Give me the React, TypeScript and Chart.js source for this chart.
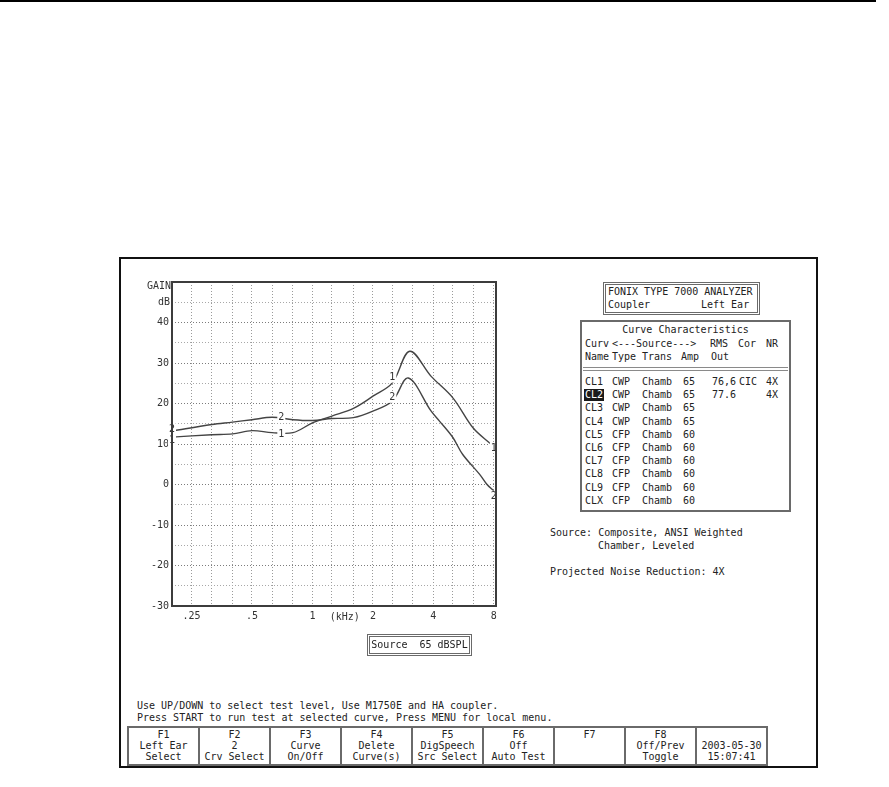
import React, { useEffect, useRef } from "react";
import { Chart, registerables } from "chart.js";

Chart.register(...registerables);

// Coupler gain curves (frequency in kHz, gain in dB)
const curve1Freq = [0.2, 0.315, 0.4, 0.5, 0.63, 0.8, 1.0, 1.25, 1.6, 2.0, 2.5, 3.05, 3.9, 5.0, 6.3, 7.6, 8.0];
const curve1Gain = [11.7, 12.3, 12.5, 13.3, 12.8, 12.8, 15.2, 16.9, 18.8, 21.8, 25.1, 32.9, 26.7, 21.4, 14.0, 10.3, 9.5];
const curve2Freq = [0.2, 0.315, 0.4, 0.5, 0.63, 0.8, 1.0, 1.25, 1.6, 2.0, 2.5, 3.0, 3.9, 4.3, 5.0, 5.6, 6.8, 7.4, 8.0];
const curve2Gain = [13.2, 14.8, 15.4, 16.0, 16.6, 16.0, 15.8, 16.3, 16.5, 18.1, 20.6, 26.3, 18.1, 15.6, 11.6, 7.4, 2.5, 0.0, -1.6];

// Curve number markers written along each trace
const markerCurve = ["2", "1", "2", "1", "1", "2", "1", "2"];
const markerFreq = [0.2, 0.2, 0.7, 0.7, 2.5, 2.5, 8.0, 8.0];
const markerGain = [13.6, 11.0, 16.5, 12.4, 26.4, 21.4, 9.0, -3.0];

// Third-octave grid and labelled frequencies
const gridFreqs = [0.25, 0.315, 0.4, 0.5, 0.63, 0.8, 1, 1.25, 1.6, 2, 2.5, 3.15, 4, 5, 6.3, 8];
const xTickValues = [0.25, 0.5, 1, 2, 4, 8];
const xTickLabels = [".25", ".5", "1", "2", "4", "8"];
const yTickValues = [40, 30, 20, 10, 0, -10, -20, -30];

// Curve characteristics table
const curveNames = ["CL1", "CL2", "CL3", "CL4", "CL5", "CL6", "CL7", "CL8", "CL9", "CLX"];
const sourceTypes = ["CWP", "CWP", "CWP", "CWP", "CFP", "CFP", "CFP", "CFP", "CFP", "CFP"];
const transducers = ["Chamb", "Chamb", "Chamb", "Chamb", "Chamb", "Chamb", "Chamb", "Chamb", "Chamb", "Chamb"];
const amplitudes = ["65", "65", "65", "65", "60", "60", "60", "60", "60", "60"];
const rmsOut = ["76,6", "77.6", "", "", "", "", "", "", "", ""];
const corrections = ["CIC", "", "", "", "", "", "", "", "", ""];
const noiseReduction = ["4X", "4X", "", "", "", "", "", "", "", ""];

// Function key bar
const keyTitles = ["F1", "F2", "F3", "F4", "F5", "F6", "F7", "F8", ""];
const keyLine2 = ["Left Ear", "2", "Curve", "Delete", "DigSpeech", "Off", "", "Off/Prev", "2003-05-30"];
const keyLine3 = ["Select", "Crv Select", "On/Off", "Curve(s)", "Src Select", "Auto Test", "", "Toggle", "15:07:41"];

const FONT = '"DejaVu Sans Mono", "Liberation Mono", monospace';
const INK = "#222";

function Txt(props: { x: number; y: number; size?: number; children: React.ReactNode; align?: "left" | "center" | "right"; w?: number }) {
  const size = props.size ?? 10;
  const style: React.CSSProperties = {
    position: "absolute",
    top: props.y - 6,
    lineHeight: "12px",
    fontSize: size,
    fontFamily: FONT,
    color: INK,
    whiteSpace: "pre",
  };
  if (props.align === "center" && props.w) {
    style.left = props.x;
    style.width = props.w;
    style.textAlign = "center";
  } else if (props.align === "right" && props.w) {
    style.left = props.x - props.w;
    style.width = props.w;
    style.textAlign = "right";
  } else {
    style.left = props.x;
  }
  return <div style={style}>{props.children}</div>;
}

function GainChart() {
  const ref = useRef<HTMLCanvasElement | null>(null);

  useEffect(() => {
    if (!ref.current) return;

    const extras = {
      id: "analyzerExtras",
      afterDatasetsDraw(chart: any) {
        const { ctx, chartArea, scales } = chart;
        const xs = scales.x;
        const ys = scales.y;
        ctx.save();
        ctx.font = `10px ${FONT}`;
        ctx.textAlign = "center";
        ctx.textBaseline = "middle";
        for (let i = 0; i < markerCurve.length; i++) {
          const px = xs.getPixelForValue(markerFreq[i]);
          const py = ys.getPixelForValue(markerGain[i]);
          ctx.fillStyle = "#ffffff";
          ctx.fillRect(px - 4, py - 6, 8, 11);
          ctx.fillStyle = "#333";
          ctx.fillText(markerCurve[i], px, py);
        }
        // plot frame
        ctx.strokeStyle = "#3c3c3c";
        ctx.lineWidth = 2;
        ctx.setLineDash([]);
        ctx.strokeRect(chartArea.left, chartArea.top, chartArea.right - chartArea.left, chartArea.bottom - chartArea.top);
        // axis captions
        ctx.fillStyle = "#333";
        ctx.textAlign = "right";
        ctx.fillText("GAIN", chartArea.left - 1, ys.getPixelForValue(48.8));
        ctx.fillText("dB", chartArea.left - 2, ys.getPixelForValue(45));
        ctx.textAlign = "center";
        ctx.fillText("(kHz)", xs.getPixelForValue(1.45), chartArea.bottom + 11);
        ctx.restore();
      },
    };

    const chart = new Chart(ref.current, {
      type: "line",
      data: {
        datasets: [
          {
            label: "1",
            data: curve1Freq.map((f, i) => ({ x: f, y: curve1Gain[i] })),
            borderColor: "#444",
            borderWidth: 1.4,
            pointRadius: 0,
            tension: 0.35,
            fill: false,
          },
          {
            label: "2",
            data: curve2Freq.map((f, i) => ({ x: f, y: curve2Gain[i] })),
            borderColor: "#444",
            borderWidth: 1.4,
            pointRadius: 0,
            tension: 0.35,
            fill: false,
          },
        ],
      },
      options: {
        animation: false,
        responsive: false,
        maintainAspectRatio: false,
        layout: { padding: { left: 0, top: 20, right: 24, bottom: 6 } },
        plugins: { legend: { display: false }, tooltip: { enabled: false } },
        scales: {
          x: {
            type: "logarithmic",
            min: 0.2,
            max: 8.2,
            afterBuildTicks: (scale: any) => {
              scale.ticks = gridFreqs.map((v) => ({ value: v }));
            },
            afterFit: (scale: any) => {
              scale.height = 30;
            },
            ticks: {
              autoSkip: false,
              maxRotation: 0,
              padding: 4,
              color: "#333",
              font: { family: FONT, size: 10 },
              callback: (value: any) => {
                const idx = xTickValues.indexOf(Number(value));
                return idx >= 0 ? xTickLabels[idx] : "";
              },
            },
            grid: { color: "#9a9a9a", lineWidth: 1, drawTicks: false },
            border: { display: false, dash: [1, 2] },
          },
          y: {
            type: "linear",
            min: -30,
            max: 50,
            afterFit: (scale: any) => {
              scale.width = 52;
            },
            ticks: {
              stepSize: 5,
              padding: 3,
              color: "#333",
              font: { family: FONT, size: 10 },
              callback: (value: any) => {
                const v = Number(value);
                return yTickValues.indexOf(v) >= 0 ? String(v) : "";
              },
            },
            grid: {
              drawTicks: false,
              lineWidth: 1,
              color: (c: any) => (c.tick && c.tick.value % 10 === 0 ? "#7c7c7c" : "#a8a8a8"),
            },
            border: { display: false, dash: [1, 2] },
          },
        },
      },
      plugins: [extras],
    } as any);

    return () => chart.destroy();
  }, []);

  return (
    <canvas
      ref={ref}
      width={400}
      height={380}
      style={{ position: "absolute", left: 120, top: 262, width: 400, height: 380 }}
    />
  );
}

export default function App() {
  const rowY = (i: number) => 382 + i * 13.2;
  const keyLeft = 127;
  const keyW = 71;

  return (
    <div style={{ position: "absolute", left: 0, top: 0, width: 889, height: 787, background: "#fff", overflow: "hidden" }}>
      {/* page rule */}
      <div style={{ position: "absolute", left: 0, top: 0, width: 876, height: 2, background: "#000" }} />
      {/* screen frame */}
      <div style={{ position: "absolute", left: 119, top: 257, width: 699, height: 511, border: "2px solid #111", boxSizing: "border-box" }} />

      <GainChart />

      {/* analyzer title box */}
      <div style={{ position: "absolute", left: 603, top: 282, width: 157, height: 33, border: "3px double #6a6a6a", boxSizing: "border-box" }} />
      <Txt x={608} y={292}>FONIX TYPE 7000 ANALYZER</Txt>
      <Txt x={608} y={305}>Coupler</Txt>
      <Txt x={701} y={305}>Left Ear</Txt>

      {/* curve characteristics */}
      <div style={{ position: "absolute", left: 580, top: 320, width: 211, height: 192, border: "2px solid #6a6a6a", boxSizing: "border-box" }} />
      <Txt x={580} y={330} align="center" w={211}>Curve Characteristics</Txt>
      <Txt x={585} y={344}>Curv</Txt>
      <Txt x={612} y={344}>{"<---Source--->"}</Txt>
      <Txt x={710} y={344}>RMS</Txt>
      <Txt x={738} y={344}>Cor</Txt>
      <Txt x={766} y={344}>NR</Txt>
      <Txt x={585} y={357}>Name</Txt>
      <Txt x={612} y={357}>Type</Txt>
      <Txt x={642} y={357}>Trans</Txt>
      <Txt x={681} y={357}>Amp</Txt>
      <Txt x={711} y={357}>Out</Txt>
      <div style={{ position: "absolute", left: 583, top: 367, width: 205, height: 4, borderTop: "1px solid #8a8a8a", borderBottom: "1px solid #8a8a8a", boxSizing: "border-box" }} />
      {curveNames.map((name, i) => (
        <React.Fragment key={name}>
          {i === 1 ? (
            <div
              style={{
                position: "absolute", left: 584, top: rowY(i) - 6, height: 12, lineHeight: "12px", padding: "0 1px",
                background: "#1a1a1a", color: "#fff", fontSize: 10, fontFamily: FONT, whiteSpace: "pre",
              }}
            >
              {name}
            </div>
          ) : (
            <Txt x={585} y={rowY(i)}>{name}</Txt>
          )}
          <Txt x={612} y={rowY(i)}>{sourceTypes[i]}</Txt>
          <Txt x={642} y={rowY(i)}>{transducers[i]}</Txt>
          <Txt x={683} y={rowY(i)}>{amplitudes[i]}</Txt>
          <Txt x={712} y={rowY(i)}>{rmsOut[i]}</Txt>
          <Txt x={739} y={rowY(i)}>{corrections[i]}</Txt>
          <Txt x={778} y={rowY(i)} align="right" w={30}>{noiseReduction[i]}</Txt>
        </React.Fragment>
      ))}

      <Txt x={550} y={533}>Source: Composite, ANSI Weighted</Txt>
      <Txt x={598} y={546}>Chamber, Leveled</Txt>
      <Txt x={550} y={572}>Projected Noise Reduction: 4X</Txt>

      {/* source level box */}
      <div style={{ position: "absolute", left: 367, top: 634, width: 105, height: 22, border: "3px double #6a6a6a", boxSizing: "border-box" }} />
      <Txt x={367} y={645} align="center" w={105}>{"Source  65 dBSPL"}</Txt>

      <Txt x={137} y={706}>Use UP/DOWN to select test level, Use M1750E and HA coupler.</Txt>
      <Txt x={137} y={718}>Press START to run test at selected curve, Press MENU for local menu.</Txt>

      {/* function keys */}
      {keyTitles.map((t, i) => (
        <div
          key={i}
          style={{
            position: "absolute", left: keyLeft + i * keyW, top: 726, width: keyW + 2, height: 40,
            border: "2px solid #6a6a6a", boxSizing: "border-box", textAlign: "center",
            fontFamily: FONT, fontSize: 10, lineHeight: "11px", color: INK, paddingTop: 1, whiteSpace: "pre",
          }}
        >
          <div style={{ height: 11 }}>{t}</div>
          <div style={{ height: 11 }}>{keyLine2[i]}</div>
          <div style={{ height: 11 }}>{keyLine3[i]}</div>
        </div>
      ))}
    </div>
  );
}
